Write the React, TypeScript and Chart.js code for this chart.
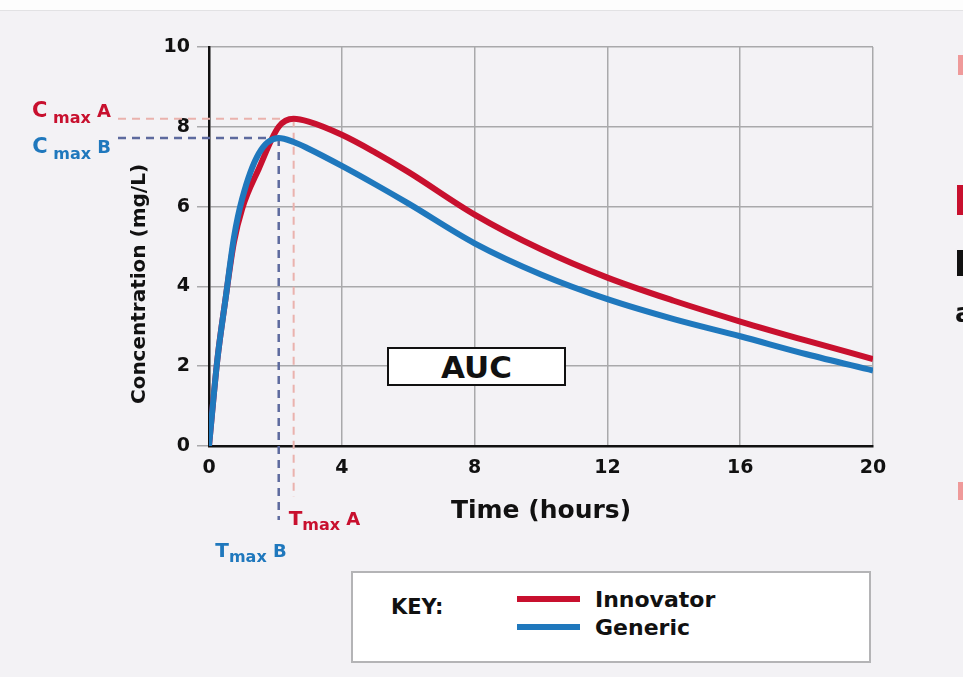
import React, { useEffect, useRef } from 'react';
import { Chart, registerables } from 'chart.js';

Chart.register(...registerables);

// hours after dose
const hours = [0, 0.25, 0.5, 0.75, 1, 1.5, 2.1, 2.55, 3, 4, 5, 6, 8, 10, 12, 14, 16, 18, 20];
// concentration (mg/L)
const innovator = [0, 2.15, 3.7, 5.1, 5.95, 6.95, 8.0, 8.2, 8.13, 7.8, 7.36, 6.87, 5.8, 4.93, 4.22, 3.64, 3.12, 2.64, 2.18];
const generic = [0, 2.15, 3.7, 5.22, 6.2, 7.33, 7.72, 7.62, 7.45, 7.02, 6.56, 6.08, 5.08, 4.3, 3.68, 3.18, 2.75, 2.3, 1.89];

const seriesNames = ['Innovator', 'Generic'];
const seriesColors = ['#c8102e', '#1f78bd'];
const peakLineColors = ['#eab2ad', '#5d6a9e'];
const peakTags = ['A', 'B'];

const xTicks = [0, 4, 8, 12, 16, 20];
const yTicks = [0, 2, 4, 6, 8, 10];

const FONT = '"DejaVu Sans", sans-serif';

function peakIndex(values: number[]) {
    let best = 0;
    values.forEach((v, i) => { if (v > values[best]) best = i; });
    return best;
}

// draws things like C_max A, parts are [text, size, drop]
function drawParts(ctx: CanvasRenderingContext2D, parts: [string, number, number][], x: number, base: number, color: string, alignRight: boolean) {
    ctx.fillStyle = color;
    ctx.textBaseline = 'alphabetic';
    ctx.textAlign = 'left';
    let total = 0;
    const widths = parts.map(([t, s]) => {
        ctx.font = `bold ${s}px ${FONT}`;
        const w = ctx.measureText(t).width;
        total += w;
        return w;
    });
    let cx = alignRight ? x - total : x;
    parts.forEach(([t, s, d], i) => {
        ctx.font = `bold ${s}px ${FONT}`;
        ctx.fillText(t, cx, base + d);
        cx += widths[i];
    });
}

const peakPlugin = {
    id: 'peakLines',
    beforeDatasetsDraw(chart: any) {
        const { ctx, scales } = chart;
        const xs = scales.x, ys = scales.y;
        const all = [innovator, generic];
        ctx.save();
        ctx.setLineDash([8, 6]);
        all.forEach((vals, k) => {
            const i = peakIndex(vals);
            const px = xs.getPixelForValue(hours[i]);
            const py = ys.getPixelForValue(vals[i]);
            const bottom = ys.getPixelForValue(0) + (k === 0 ? 51 : 74);
            ctx.strokeStyle = peakLineColors[k];
            ctx.lineWidth = k === 0 ? 2 : 2.5;
            ctx.beginPath();
            ctx.moveTo(xs.left - 91, py);
            ctx.lineTo(px, py);
            ctx.moveTo(px, py);
            ctx.lineTo(px, bottom);
            ctx.stroke();
        });
        ctx.restore();
    },
    afterDraw(chart: any) {
        const { ctx, scales } = chart;
        const xs = scales.x, ys = scales.y;
        const all = [innovator, generic];
        ctx.save();
        all.forEach((vals, k) => {
            const i = peakIndex(vals);
            const px = xs.getPixelForValue(hours[i]);
            const py = ys.getPixelForValue(vals[i]);
            const tag = peakTags[k];
            const cBase = k === 0 ? py - 2 : py + 15;
            drawParts(ctx, [['C', 21, 0], [' max', 16, 6], [' ' + tag, 18, 0]], xs.left - 98, cBase, seriesColors[k], true);
            const bottom = ys.getPixelForValue(0);
            if (k === 0) {
                drawParts(ctx, [['T', 20, 0], ['max', 16, 5], [' ' + tag, 18, 0]], px - 5, bottom + 79, seriesColors[k], false);
            } else {
                drawParts(ctx, [['T', 20, 0], ['max', 16, 5], [' ' + tag, 18, 0]], px + 8, bottom + 111, seriesColors[k], true);
            }
        });
        // y axis title
        ctx.translate(140, 284);
        ctx.rotate(-Math.PI / 2);
        ctx.fillStyle = '#111';
        ctx.font = `bold 20px ${FONT}`;
        ctx.textAlign = 'center';
        ctx.textBaseline = 'middle';
        ctx.fillText('Concentration (mg/L)', 0, 0);
        ctx.restore();
    },
};

export default function App() {
    const canvasRef = useRef<HTMLCanvasElement | null>(null);
    const chartRef = useRef<Chart<'line'> | null>(null);

    useEffect(() => {
        if (!canvasRef.current) return;
        if (chartRef.current) chartRef.current.destroy();

        const ctx = canvasRef.current.getContext('2d');
        if (!ctx) return;

        const sets = [innovator, generic].map((vals, k) => ({
            label: seriesNames[k],
            data: vals.map((v, i) => ({ x: hours[i], y: v })),
            borderColor: seriesColors[k],
            borderWidth: 6,
            pointRadius: 0,
            fill: false,
            cubicInterpolationMode: 'monotone' as const,
            order: k === 0 ? 2 : 1,
        }));

        chartRef.current = new Chart(ctx, {
            type: 'line',
            data: { datasets: sets },
            plugins: [peakPlugin],
            options: {
                responsive: false,
                animation: false,
                layout: { padding: { left: 0, top: 47, right: 90, bottom: 151 } },
                plugins: { legend: { display: false }, tooltip: { enabled: false } },
                scales: {
                    x: {
                        type: 'linear',
                        min: 0,
                        max: 20,
                        afterFit: (s: any) => { s.height = 80; },
                        afterBuildTicks: (s: any) => { s.ticks = xTicks.map((v) => ({ value: v })); },
                        ticks: { color: '#111', font: { family: FONT, size: 19, weight: 'bold' }, padding: 11 },
                        grid: { color: '#a9a9ab', lineWidth: 1.5, drawTicks: false },
                        border: { color: '#111', width: 2.5 },
                        title: { display: true, text: 'Time (hours)', color: '#111', font: { family: FONT, size: 25, weight: 'bold' }, padding: 0 },
                    },
                    y: {
                        min: 0,
                        max: 10,
                        afterFit: (s: any) => { s.width = 209; },
                        afterBuildTicks: (s: any) => { s.ticks = yTicks.map((v) => ({ value: v })); },
                        ticks: { color: '#111', font: { family: FONT, size: 19, weight: 'bold' }, padding: 7 },
                        grid: { color: '#a9a9ab', lineWidth: 1.5, tickLength: 12 },
                        border: { color: '#111', width: 2.5 },
                    },
                },
            },
        });

        return () => {
            if (chartRef.current) {
                chartRef.current.destroy();
                chartRef.current = null;
            }
        };
    }, []);

    const bold = { fontFamily: FONT, fontWeight: 'bold' as const, color: '#111' };

    return (
        <div style={{ position: 'fixed', left: 0, top: 0, width: 963, height: 677, background: '#f3f2f5', overflow: 'hidden' }}>
            <div style={{ position: 'absolute', left: 0, top: 0, width: 963, height: 10, background: '#fdfdfd', borderBottom: '1px solid #e2e2e4' }} />
            <canvas ref={canvasRef} width={963} height={677} style={{ position: 'absolute', left: 0, top: 0 }} />
            <div style={{ position: 'absolute', left: 387, top: 347, width: 175, height: 35, background: '#fff', border: '2px solid #111', display: 'flex', alignItems: 'center', justifyContent: 'center', ...bold, fontSize: 31 }}>AUC</div>
            <div style={{ position: 'absolute', left: 351, top: 571, width: 516, height: 88, background: '#fff', border: '2px solid #b4b4b6' }}>
                <div style={{ position: 'absolute', left: 38, top: 22, ...bold, fontSize: 21 }}>KEY:</div>
                {seriesNames.map((name, k) => (
                    <div key={name} style={{ position: 'absolute', left: 164, top: 12 + k * 28, height: 28, display: 'flex', alignItems: 'center' }}>
                        <div style={{ width: 63, height: 6, background: seriesColors[k], marginRight: 15 }} />
                        <span style={{ ...bold, fontSize: 22 }}>{name}</span>
                    </div>
                ))}
            </div>
            <div style={{ position: 'absolute', left: 958, top: 55, width: 5, height: 20, background: '#ef9a9a' }} />
            <div style={{ position: 'absolute', left: 957, top: 185, width: 6, height: 30, background: '#c8102e' }} />
            <div style={{ position: 'absolute', left: 957, top: 250, width: 6, height: 26, background: '#111' }} />
            <div style={{ position: 'absolute', left: 955, top: 298, ...bold, fontSize: 26 }}>a</div>
            <div style={{ position: 'absolute', left: 958, top: 482, width: 5, height: 18, background: '#ef9a9a' }} />
        </div>
    );
}
